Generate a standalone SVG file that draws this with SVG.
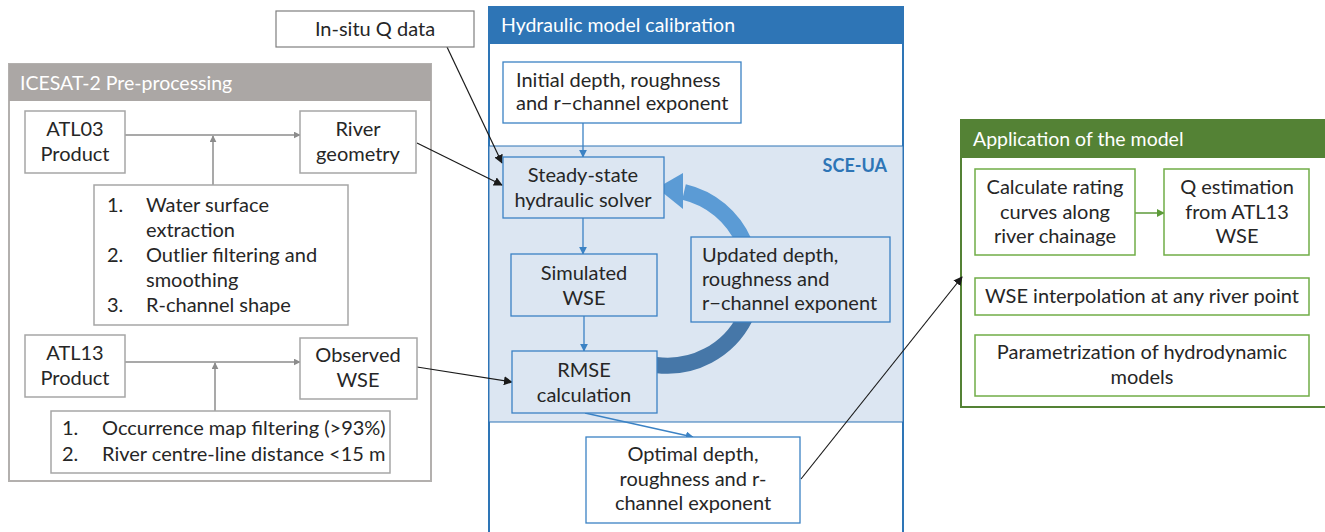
<svg xmlns="http://www.w3.org/2000/svg" width="1325" height="532" viewBox="0 0 1325 532">
  <defs>
    <style>
      text { font-family: Lato, "Liberation Sans", sans-serif; font-size: 20px; fill: #262626; }
      .hdr { font-size: 19.5px; fill: #ffffff; }
      .mid { text-anchor: middle; }
      .gbox { fill: #ffffff; stroke: #a6a6a6; stroke-width: 1.5; }
      .bbox { fill: #ffffff; stroke: #3b82c4; stroke-width: 1.3; }
      .bboxl { fill: #dce6f2; stroke: #3b82c4; stroke-width: 1.3; }
      .ebox { fill: #ffffff; stroke: #70ad47; stroke-width: 1.5; }
      .kbox { fill: #ffffff; stroke: #7f7f7f; stroke-width: 1.2; }
      .garr { stroke: #8c8c8c; stroke-width: 1.5; fill: none; marker-end: url(#mg); }
      .barr { stroke: #3b82c4; stroke-width: 1.3; fill: none; marker-end: url(#mb); }
      .karr { stroke: #1a1a1a; stroke-width: 1.2; fill: none; marker-end: url(#mk); }
      .earr { stroke: #5d9a3a; stroke-width: 1.5; fill: none; marker-end: url(#me); }
    </style>
    <marker id="mg" viewBox="0 0 10 10" refX="9" refY="5" markerWidth="7" markerHeight="7" markerUnits="userSpaceOnUse" orient="auto">
      <path d="M0,0 L10,5 L0,10 z" fill="#8c8c8c"/>
    </marker>
    <marker id="mb" viewBox="0 0 10 10" refX="9" refY="5" markerWidth="8" markerHeight="8" markerUnits="userSpaceOnUse" orient="auto">
      <path d="M0,0 L10,5 L0,10 z" fill="#3b82c4"/>
    </marker>
    <marker id="mk" viewBox="0 0 10 10" refX="9" refY="5" markerWidth="9" markerHeight="9" markerUnits="userSpaceOnUse" orient="auto">
      <path d="M0,0 L10,5 L0,10 z" fill="#1a1a1a"/>
    </marker>
    <marker id="me" viewBox="0 0 10 10" refX="9" refY="5" markerWidth="8" markerHeight="8" markerUnits="userSpaceOnUse" orient="auto">
      <path d="M0,0 L10,5 L0,10 z" fill="#5d9a3a"/>
    </marker>
  </defs>

  <rect width="1325" height="532" fill="#ffffff"/>

  <!-- ICESAT-2 pre-processing panel -->
  <g id="icesat-panel">
    <rect x="9" y="64" width="422" height="417" fill="#ffffff" stroke="#b3b0ae" stroke-width="2"/>
    <rect x="9" y="64" width="422" height="37" fill="#aba7a5"/>
    <text class="hdr" x="20" y="90" fill="#f2f2f2">ICESAT-2 Pre-processing</text>
  </g>

  <!-- Hydraulic model calibration panel -->
  <g id="calibration-panel">
    <rect x="489" y="7" width="414" height="530" fill="#ffffff" stroke="#2e75b6" stroke-width="2"/>
    <rect x="489" y="146" width="414" height="276" fill="#dce6f2" stroke="#2e75b6" stroke-width="1"/>
    <rect x="489" y="7" width="414" height="37" fill="#2e75b6"/>
    <text class="hdr" x="501" y="32">Hydraulic model calibration</text>
    <text x="887" y="172" text-anchor="end" style="font-weight:bold;font-size:18px;fill:#2e75b6">SCE-UA</text>
  </g>

  <!-- Application panel -->
  <g id="application-panel">
    <rect x="961" y="120" width="370" height="287" fill="#ffffff" stroke="#548235" stroke-width="2"/>
    <rect x="961" y="120" width="370" height="38" fill="#548235"/>
    <text class="hdr" x="973" y="146">Application of the model</text>
  </g>

  <!-- SCE-UA update loop arrow -->
  <g id="loop-arrow">
    <path d="M656,365 A87,87 0 0 0 745,318" fill="none" stroke="#4677a8" stroke-width="16"/>
    <path d="M744,242 A87,87 0 0 0 684,192" fill="none" stroke="#5b9bd5" stroke-width="16"/>
    <polygon points="657,188 683,173 683,209" fill="#5b9bd5"/>
  </g>

  <!-- connectors -->
  <g id="connectors">
    <line class="garr" x1="125" y1="135" x2="300" y2="135"/>
    <line class="garr" x1="213" y1="185" x2="213" y2="136"/>
    <line class="garr" x1="125" y1="362" x2="300" y2="362"/>
    <line class="garr" x1="215" y1="411" x2="215" y2="363"/>
    <line class="karr" x1="447" y1="47" x2="502" y2="163"/>
    <line class="karr" x1="417" y1="143" x2="502" y2="185"/>
    <line class="karr" x1="417" y1="367" x2="512" y2="382"/>
    <line class="karr" x1="801" y1="479" x2="962" y2="277"/>
    <line class="barr" x1="583" y1="123" x2="583" y2="157"/>
    <line class="barr" x1="583" y1="218" x2="583" y2="254"/>
    <line class="barr" x1="584" y1="316" x2="584" y2="351"/>
    <line class="barr" x1="585" y1="413" x2="693" y2="437"/>
    <line class="earr" x1="1135" y1="213" x2="1164" y2="213"/>
  </g>

  <!-- ICESAT nodes -->
  <g id="atl03">
    <rect class="gbox" x="25" y="111" width="100" height="62"/>
    <text class="mid" x="75" y="136">ATL03</text>
    <text class="mid" x="75" y="161">Product</text>
  </g>
  <g id="river-geometry">
    <rect class="gbox" x="300" y="111" width="116" height="62"/>
    <text class="mid" x="358" y="136">River</text>
    <text class="mid" x="358" y="161">geometry</text>
  </g>
  <g id="atl03-steps">
    <rect class="gbox" x="94" y="185" width="254" height="140"/>
    <text x="107" y="212">1.</text><text x="146" y="212">Water surface</text>
    <text x="146" y="237">extraction</text>
    <text x="107" y="262">2.</text><text x="146" y="262">Outlier filtering and</text>
    <text x="146" y="287">smoothing</text>
    <text x="107" y="312">3.</text><text x="146" y="312">R-channel shape</text>
  </g>
  <g id="atl13">
    <rect class="gbox" x="25" y="335" width="100" height="62"/>
    <text class="mid" x="75" y="360">ATL13</text>
    <text class="mid" x="75" y="385">Product</text>
  </g>
  <g id="observed-wse">
    <rect class="gbox" x="300" y="338" width="117" height="61"/>
    <text class="mid" x="358" y="362">Observed</text>
    <text class="mid" x="358" y="387">WSE</text>
  </g>
  <g id="atl13-steps">
    <rect class="gbox" x="51" y="411" width="339" height="62"/>
    <text x="62" y="435">1.</text><text x="102" y="435">Occurrence map filtering (&gt;93%)</text>
    <text x="62" y="461">2.</text><text x="102" y="461">River centre-line distance &lt;15 m</text>
  </g>

  <!-- external input -->
  <g id="insitu-q">
    <rect class="kbox" x="276" y="11" width="198" height="36"/>
    <text class="mid" x="375" y="36">In-situ Q data</text>
  </g>

  <!-- calibration nodes -->
  <g id="initial-params">
    <rect class="bbox" x="503" y="62" width="238" height="61"/>
    <text x="516" y="87">Initial depth, roughness</text>
    <text x="516" y="110">and r−channel exponent</text>
  </g>
  <g id="solver">
    <rect class="bboxl" x="503" y="157" width="161" height="61"/>
    <text class="mid" x="583" y="182">Steady-state</text>
    <text class="mid" x="583" y="207">hydraulic solver</text>
  </g>
  <g id="simulated-wse">
    <rect class="bboxl" x="511" y="254" width="146" height="62"/>
    <text class="mid" x="584" y="280">Simulated</text>
    <text class="mid" x="584" y="305">WSE</text>
  </g>
  <g id="rmse">
    <rect class="bboxl" x="512" y="351" width="145" height="62"/>
    <text class="mid" x="584" y="377">RMSE</text>
    <text class="mid" x="584" y="402">calculation</text>
  </g>
  <g id="updated-params">
    <rect class="bboxl" x="691" y="237" width="199" height="85"/>
    <text x="702" y="262">Updated depth,</text>
    <text x="702" y="286">roughness and</text>
    <text x="702" y="310">r−channel exponent</text>
  </g>
  <g id="optimal-params">
    <rect class="bbox" x="586" y="437" width="214" height="86"/>
    <text class="mid" x="693" y="461">Optimal depth,</text>
    <text class="mid" x="693" y="486">roughness and r-</text>
    <text class="mid" x="693" y="510">channel exponent</text>
  </g>

  <!-- application nodes -->
  <g id="rating-curves">
    <rect class="ebox" x="975" y="169" width="160" height="86"/>
    <text class="mid" x="1055" y="194">Calculate rating</text>
    <text class="mid" x="1055" y="219">curves along</text>
    <text class="mid" x="1055" y="243">river chainage</text>
  </g>
  <g id="q-estimation">
    <rect class="ebox" x="1164" y="169" width="145" height="86"/>
    <text class="mid" x="1237" y="194">Q estimation</text>
    <text class="mid" x="1237" y="219">from ATL13</text>
    <text class="mid" x="1237" y="243">WSE</text>
  </g>
  <g id="wse-interpolation">
    <rect class="ebox" x="975" y="278" width="334" height="37"/>
    <text class="mid" x="1142" y="303">WSE interpolation at any river point</text>
  </g>
  <g id="parametrization">
    <rect class="ebox" x="975" y="335" width="334" height="61"/>
    <text class="mid" x="1142" y="359">Parametrization of hydrodynamic</text>
    <text class="mid" x="1142" y="384">models</text>
  </g>
</svg>
